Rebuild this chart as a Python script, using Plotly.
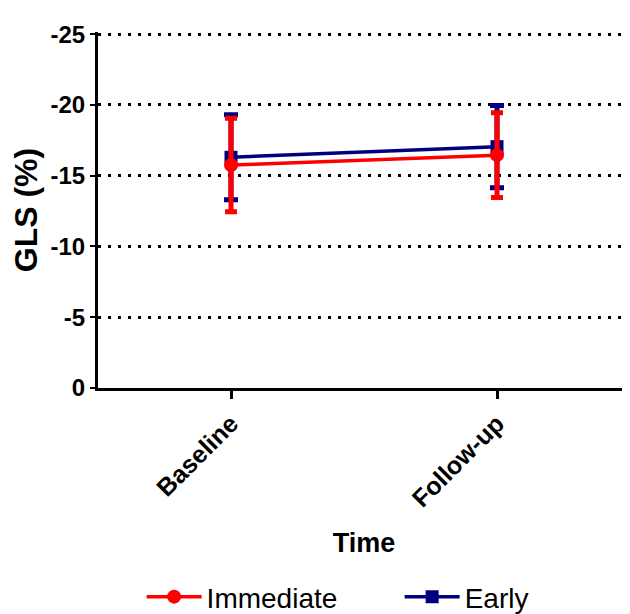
import plotly.graph_objects as go

categories = ["Baseline", "Follow-up"]
immediate_mean = [-15.75, -16.45]
immediate_err = [3.3, 3.0]
early_mean = [-16.3, -17.05]
early_err = [3.0, 2.9]
y_ticks = [0, -5, -10, -15, -20, -25]
y_tick_labels = ["0", "-5", "-10", "-15", "-20", "-25"]

FONT = "Liberation Sans, Arial, sans-serif"
RED = "#ff0000"
NAVY = "#00007f"

fig = go.Figure()
fig.add_trace(go.Scatter(
    x=categories, y=early_mean, name="Early", mode="lines+markers",
    line=dict(color=NAVY, width=3.5),
    marker=dict(symbol="square", size=13, color=NAVY),
    error_y=dict(type="data", array=early_err, color=NAVY, thickness=5, width=7),
    legend="legend2",
))
fig.add_trace(go.Scatter(
    x=categories, y=immediate_mean, name="Immediate", mode="lines+markers",
    line=dict(color=RED, width=3.5),
    marker=dict(symbol="circle", size=14, color=RED),
    error_y=dict(type="data", array=immediate_err, color=RED, thickness=5, width=6),
    legend="legend",
))

leg_common = dict(orientation="h", xanchor="left", y=-0.587, yanchor="middle",
                  font=dict(size=28, family=FONT), itemwidth=55,
                  bgcolor="rgba(0,0,0,0)")
fig.update_layout(
    width=630, height=614,
    margin=dict(l=90, r=8, t=24, b=234, autoexpand=False),
    paper_bgcolor="white", plot_bgcolor="white",
    font=dict(family=FONT, color="black"),
    showlegend=True,
    legend=dict(x=0.082, **leg_common),
    legend2=dict(x=0.567, **leg_common),
)
fig.update_xaxes(
    type="category", range=[-0.5, 1.5],
    showline=True, linecolor="black", linewidth=3,
    ticks="outside", ticklen=8, tickwidth=3, tickcolor="black",
    tickangle=-45, tickfont=dict(size=25, family=FONT, weight="bold"),
    showgrid=False, zeroline=False,
    title=dict(text="Time", font=dict(size=27, family=FONT, weight="bold"), standoff=22),
)
fig.update_yaxes(
    range=[0, -25.15], tickvals=y_ticks, ticktext=y_tick_labels,
    showline=True, linecolor="black", linewidth=3,
    ticks="outside", ticklen=5, tickwidth=2, tickcolor="black",
    tickfont=dict(size=24, family=FONT, weight="bold"),
    showgrid=True, gridcolor="black", gridwidth=3, griddash="3px,7px",
    zeroline=False,
    title=dict(text="GLS (%)", font=dict(size=32, family=FONT, weight="bold"), standoff=6),
)

fig.write_html("out.html")
